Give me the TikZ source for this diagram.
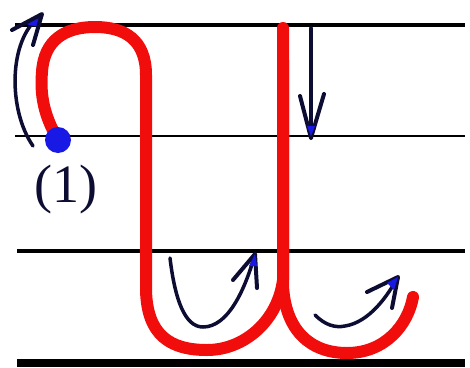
\documentclass[tikz,border=0pt]{standalone}
\usepackage{fontspec}
\setmainfont{Liberation Serif}
\definecolor{inkred}{rgb}{0.95,0.05,0.05}
\definecolor{inknavy}{rgb}{0.05,0.05,0.2}
\definecolor{dotblue}{rgb}{0.1,0.1,0.9}
\begin{document}
\begin{tikzpicture}[x=1pt,y=-1pt,
  guide/.style={draw=black},
  stroke/.style={draw=inkred,line width=12pt,line cap=round,line join=round},
  shaft/.style={draw=inknavy,line width=3.5pt,line cap=round},
  barb/.style={draw=inknavy,line width=4pt,line cap=round,line join=round},
  tipfill/.style={fill=dotblue}]
\useasboundingbox (0,0) rectangle (470,367);
\fill[white] (0,0) rectangle (470,367);
% guide lines
\draw[guide,line width=4pt] (15,24.5) -- (465,24.5);
\draw[guide,line width=1.5pt] (15,136) -- (465,136);
\draw[guide,line width=4pt] (17,251) -- (465,251);
\draw[guide,line width=8pt] (17,363) -- (465,363);
% red letter stroke
\draw[stroke] (57,138) .. controls (44,115) and (40,95) .. (42,72)
  .. controls (44,40) and (65,27) .. (95,27)
  .. controls (125,27) and (146,40) .. (146,75) -- (146,290)
  .. controls (147,335) and (170,350) .. (207,350)
  .. controls (245,350) and (278,320) .. (283,280) -- (283,28);
\draw[stroke] (283,60) -- (283,285)
  .. controls (285,330) and (310,353) .. (347,353)
  .. controls (385,353) and (408,325) .. (413,297);
% arrow 1 (left arc)
\draw[shaft] (33,146) .. controls (8,110) and (8,40) .. (40,16);
\fill[tipfill] (42,14) -- (26,24) -- (38,27) -- cycle;
\draw[barb] (12,30) -- (42,14) -- (33,45);
% arrow 2 (down)
\draw[shaft] (311,28) -- (311,138);
\draw[barb] (300,96) -- (311,138) -- (324,94);
\fill[tipfill] (311,136) -- (307,126) -- (315,126) -- cycle;
% arrow 3 (middle bottom)
\draw[shaft] (170,258) .. controls (175,300) and (185,327) .. (203,327)
  .. controls (228,327) and (245,290) .. (255,254);
\draw[barb] (233,280) -- (255,254) -- (257,288);
\fill[tipfill] (255,254) -- (249,266) -- (257,266) -- cycle;
% arrow 4 (right bottom)
\draw[shaft] (315,315) .. controls (325,325) and (335,328) .. (345,326)
  .. controls (370,322) and (388,295) .. (398,277);
\draw[barb] (367,292) -- (398,277) -- (392,308);
\fill[tipfill] (398,277) -- (387,283) -- (394,290) -- cycle;
% start dot and label
\fill[dotblue] (58,140) circle (13);
\node[text=inknavy,font=\fontsize{54}{54}\selectfont,inner sep=0pt] (lbl) at (66,190) {(1)};
\end{tikzpicture}
\end{document}
